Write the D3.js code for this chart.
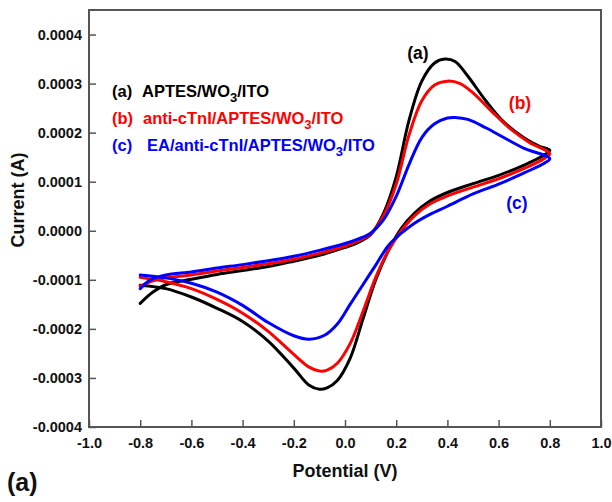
<!DOCTYPE html>
<html>
<head>
<meta charset="utf-8">
<script src="https://cdn.jsdelivr.net/npm/d3@7"></script>
<style>
  body { margin: 0; background: #fff; }
  svg { display: block; font-family: "Liberation Sans", Arial, sans-serif; font-weight: bold; }
</style>
</head>
<body>
<svg width="612" height="502"></svg>
<script>
// tick labels
var xTicks = [-1.0, -0.8, -0.6, -0.4, -0.2, 0.0, 0.2, 0.4, 0.6, 0.8, 1.0];
var yTicks = [-0.0004, -0.0003, -0.0002, -0.0001, 0, 0.0001, 0.0002, 0.0003, 0.0004];

// series names
var names = ['(a)', '(b)', '(c)'];
var colors = ['#000000', '#ff0000', '#0000ff'];

// (a) APTES/WO3/ITO : [potential V, current A], forward sweep then reverse
var curveA = [
  [-0.80, -0.000148], [-0.75, -0.000125], [-0.70, -0.000110], [-0.60, -0.000099],
  [-0.50, -0.000089], [-0.40, -0.000081], [-0.30, -0.000073], [-0.20, -0.000062],
  [-0.10, -0.000050], [0.00, -0.000034], [0.05, -0.000024], [0.10, -0.000008],
  [0.15, 0.000035], [0.20, 0.000110], [0.25, 0.000225], [0.30, 0.000305],
  [0.35, 0.000342], [0.39, 0.000350], [0.43, 0.000345], [0.48, 0.000315],
  [0.55, 0.000265], [0.62, 0.000222], [0.70, 0.000189], [0.76, 0.000172],
  [0.80, 0.000164],
  [0.78, 0.000155], [0.70, 0.000134], [0.60, 0.000113], [0.50, 0.000096],
  [0.40, 0.000078], [0.33, 0.000060], [0.27, 0.000035], [0.22, 0.000005],
  [0.17, -0.000040], [0.12, -0.000100], [0.07, -0.000180], [0.02, -0.000260],
  [-0.03, -0.000305], [-0.07, -0.000320], [-0.10, -0.000323], [-0.14, -0.000315],
  [-0.20, -0.000280], [-0.30, -0.000225], [-0.40, -0.000185], [-0.50, -0.000158],
  [-0.60, -0.000135], [-0.70, -0.000118], [-0.80, -0.000111]
];

// (b) anti-cTnI/APTES/WO3/ITO
var curveB = [
  [-0.80, -0.000113], [-0.75, -0.000102], [-0.70, -0.000096], [-0.60, -0.000090],
  [-0.50, -0.000082], [-0.40, -0.000075], [-0.30, -0.000067], [-0.20, -0.000058],
  [-0.10, -0.000046], [0.00, -0.000031], [0.05, -0.000021], [0.10, -0.000007],
  [0.15, 0.000030], [0.20, 0.000095], [0.25, 0.000195], [0.30, 0.000265],
  [0.35, 0.000297], [0.40, 0.000305], [0.45, 0.000300], [0.50, 0.000281],
  [0.57, 0.000245], [0.65, 0.000206], [0.72, 0.000180], [0.80, 0.000157],
  [0.78, 0.000148], [0.70, 0.000127], [0.60, 0.000106], [0.50, 0.000089],
  [0.40, 0.000071], [0.33, 0.000054], [0.27, 0.000030], [0.22, 0.000000],
  [0.17, -0.000040], [0.12, -0.000095], [0.07, -0.000165], [0.02, -0.000230],
  [-0.03, -0.000270], [-0.07, -0.000284], [-0.10, -0.000286], [-0.14, -0.000278],
  [-0.20, -0.000252], [-0.30, -0.000205], [-0.40, -0.000168], [-0.50, -0.000140],
  [-0.60, -0.000118], [-0.70, -0.000104], [-0.80, -0.000095]
];

// (c) EA/anti-cTnI/APTES/WO3/ITO
var curveC = [
  [-0.80, -0.000118], [-0.76, -0.000100], [-0.70, -0.000090], [-0.60, -0.000084],
  [-0.50, -0.000076], [-0.40, -0.000069], [-0.30, -0.000061], [-0.20, -0.000052],
  [-0.10, -0.000040], [0.00, -0.000026], [0.05, -0.000017], [0.10, -0.000005],
  [0.15, 0.000022], [0.20, 0.000070], [0.25, 0.000135], [0.30, 0.000190],
  [0.35, 0.000218], [0.40, 0.000230], [0.43, 0.000231], [0.48, 0.000227],
  [0.55, 0.000210], [0.62, 0.000190], [0.70, 0.000168], [0.80, 0.000147],
  [0.78, 0.000138], [0.70, 0.000118], [0.60, 0.000095], [0.50, 0.000075],
  [0.40, 0.000050], [0.33, 0.000033], [0.27, 0.000015], [0.22, -0.000005],
  [0.17, -0.000030], [0.12, -0.000070], [0.07, -0.000110], [0.02, -0.000150],
  [-0.03, -0.000190], [-0.08, -0.000213], [-0.14, -0.000221], [-0.20, -0.000214],
  [-0.30, -0.000187], [-0.40, -0.000152], [-0.50, -0.000125], [-0.60, -0.000107],
  [-0.70, -0.000096], [-0.80, -0.000090]
];

var curves = [curveA, curveB, curveC];

var svg = d3.select('svg');

var x = d3.scaleLinear().domain([-1, 1]).range([89, 601]);
var y = d3.scaleLinear().domain([-0.0004, 0.00045]).range([427, 10]);

var fmtY = function(d) { return d3.format('.4f')(d).replace('\u2212', '-'); };
var fmtX = function(d) { return d3.format('.1f')(d).replace('\u2212', '-'); };

// axes with inward ticks
var gx = svg.append('g').attr('transform', 'translate(0,427)')
  .call(d3.axisBottom(x).tickValues(xTicks).tickFormat(fmtX).tickSizeInner(-7).tickSizeOuter(0).tickPadding(11));
var gy = svg.append('g').attr('transform', 'translate(89,0)')
  .call(d3.axisLeft(y).tickValues(yTicks).tickFormat(fmtY).tickSizeInner(-7).tickSizeOuter(0).tickPadding(7));

[gx, gy].forEach(function(g) {
  g.select('.domain').remove();
  g.selectAll('line').attr('stroke', '#555').attr('stroke-width', 1.5);
  g.selectAll('text').attr('font-size', 14.5).attr('font-weight', 'bold').attr('fill', '#111')
    .attr('font-family', '"Liberation Sans", Arial, sans-serif');
});

// frame
svg.append('rect').attr('x', 89).attr('y', 10).attr('width', 512).attr('height', 417)
  .attr('fill', 'none').attr('stroke', '#555').attr('stroke-width', 2);

// curves
var line = d3.line()
  .x(function(d) { return x(d[0]); })
  .y(function(d) { return y(d[1]); })
  .curve(d3.curveCatmullRom.alpha(0.5));

curves.forEach(function(c, i) {
  svg.append('path').datum(c).attr('d', line)
    .attr('fill', 'none').attr('stroke', colors[i]).attr('stroke-width', 3)
    .attr('stroke-linejoin', 'round').attr('stroke-linecap', 'round');
});

// curve labels
svg.append('text').attr('x', 418).attr('y', 59).attr('text-anchor', 'middle').attr('font-size', 17.5).attr('fill', colors[0]).text(names[0]);
svg.append('text').attr('x', 520).attr('y', 109).attr('text-anchor', 'middle').attr('font-size', 17.5).attr('fill', colors[1]).text(names[1]);
svg.append('text').attr('x', 517).attr('y', 209).attr('text-anchor', 'middle').attr('font-size', 17.5).attr('fill', colors[2]).text(names[2]);

// legend
var legend = [
  { tag: '(a)', parts: ['APTES/WO', '3', '/ITO'], dx: 142 },
  { tag: '(b)', parts: ['anti-cTnI/APTES/WO', '3', '/ITO'], dx: 143 },
  { tag: '(c)', parts: ['EA/anti-cTnI/APTES/WO', '3', '/ITO'], dx: 147 }
];
legend.forEach(function(l, i) {
  var yy = 97 + i * 27;
  svg.append('text').attr('x', 112).attr('y', yy).attr('font-size', 16.5).attr('fill', colors[i]).text(l.tag);
  var t = svg.append('text').attr('x', l.dx).attr('y', yy).attr('font-size', 16.5).attr('fill', colors[i]);
  t.append('tspan').text(l.parts[0]);
  t.append('tspan').attr('dy', 5).attr('font-size', 13).text(l.parts[1]);
  t.append('tspan').attr('dy', -5).text(l.parts[2]);
});

// axis titles
svg.append('text').attr('x', 345).attr('y', 477).attr('text-anchor', 'middle').attr('font-size', 18).attr('fill', '#111').text('Potential (V)');
svg.append('text').attr('transform', 'translate(24,200) rotate(-90)').attr('text-anchor', 'middle').attr('font-size', 18).attr('fill', '#111').text('Current (A)');

// panel label
svg.append('text').attr('x', 7).attr('y', 491).attr('font-size', 25).attr('fill', '#111').text('(a)');
</script>
</body>
</html>
